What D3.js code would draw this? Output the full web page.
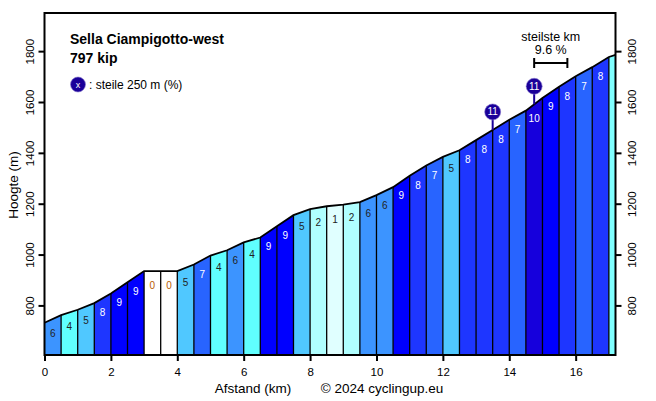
<!DOCTYPE html>
<html><head><meta charset="utf-8">
<script src="https://cdn.jsdelivr.net/npm/d3@7"></script>
<style>body{margin:0;background:#fff}svg{display:block;font-family:"Liberation Sans",Arial,sans-serif}</style>
</head><body><svg id="c" width="656" height="401"></svg>
<script>
const distances = [0,0.5,1,1.5,2,2.5,3,3.5,4,4.5,5,5.5,6,6.5,7,7.5,8,8.5,9,9.5,10,10.5,11,11.5,12,12.5,13,13.5,14,14.5,15,15.5,16,16.5,17,17.2];
const elevations = [732,762,783,809,847,891,935,935,935,961,996,1017,1048,1067,1111,1155,1179,1190,1196,1206,1234,1265,1310,1350,1384,1410,1450,1490,1530,1566,1616,1660,1701,1737,1777,1785];
const grades = [6,4,5,8,9,9,0,0,5,7,4,6,4,9,9,5,2,1,2,6,6,9,8,7,5,8,8,8,7,10,9,8,7,8,3];
const steepMarkers = [13.5,14.75];
const steepValues = [11,11];
const steepestKm = [14.75,15.75];
const steepestLabel = "9.6 %";
const xTicks = [0,2,4,6,8,10,12,14,16];
const yTicks = [800,1000,1200,1400,1600,1800];
const title = "Sella Ciampigotto-west";
const subtitle = "797 kip";

const colors = {0:"#ffffff",1:"#e0ffff",2:"#b0ffff",3:"#80ffff",4:"#60ffff",5:"#50c8ff",6:"#3c94ff",7:"#2864ff",8:"#1e36ff",9:"#0000ff",10:"#1600dc",11:"#1a0099"};

const svg = d3.select("#c");
const L=44.5,R=615.5,T=13,B=355;
const x = d3.scaleLinear().domain([0,17.2]).range([L,R]);
const y = d3.scaleLinear().domain([605,1950]).range([B,T]);
const elevAt = km => { const i = d3.bisectRight(distances, km)-1; const j=Math.min(i+1,distances.length-1);
  if (i>=distances.length-1) return elevations[elevations.length-1];
  const t=(km-distances[i])/(distances[j]-distances[i]); return elevations[i]+t*(elevations[j]-elevations[i]); };

// segments
const g = svg.append("g");
for (let i=0;i<grades.length;i++){
  const x0=x(distances[i]), x1=x(distances[i+1]);
  const y0=y(elevations[i]), y1=y(elevations[i+1]);
  g.append("path").attr("d",`M${x0},${B}L${x0},${y0}L${x1},${y1}L${x1},${B}Z`)
    .attr("fill",colors[grades[i]]).attr("stroke","none");
  if (i>0) g.append("line").attr("x1",x0).attr("x2",x0).attr("y1",B).attr("y2",y0).attr("stroke","#000").attr("stroke-width",1.3);
  if (distances[i+1]-distances[i] > 0.4){
    const gm = grades[i];
    const ym = y(elevAt((distances[i]+distances[i+1])/2));
    g.append("text").attr("x",(x0+x1)/2).attr("y",ym+18).attr("text-anchor","middle")
      .attr("font-size",10).attr("fill", gm>=7?"#ffffff":(gm===0?"#b85c00":"#222"))
      .text(gm);
  }
}
// profile line
svg.append("path").datum(distances.map((d,i)=>[d,elevations[i]]))
  .attr("d",d3.line().x(d=>x(d[0])).y(d=>y(d[1])))
  .attr("fill","none").attr("stroke","#000").attr("stroke-width",1.8);

// steep markers
steepMarkers.forEach((km,i)=>{
  const px=x(km), py=y(elevAt(km));
  svg.append("line").attr("x1",px).attr("x2",px).attr("y1",py).attr("y2",py-17).attr("stroke",colors[11]).attr("stroke-width",2);
  svg.append("circle").attr("cx",px).attr("cy",py-18).attr("r",8).attr("fill",colors[11]).attr("stroke","#8877cc").attr("stroke-width",0.6);
  svg.append("text").attr("x",px).attr("y",py-14.5).attr("text-anchor","middle").attr("font-size",10).attr("fill","#fff").text(steepValues[i]);
});

// steepest km bracket
const sx0=x(steepestKm[0]), sx1=x(steepestKm[1]), sy=63;
svg.append("line").attr("x1",sx0).attr("x2",sx1).attr("y1",sy).attr("y2",sy).attr("stroke","#000").attr("stroke-width",2);
[sx0,sx1].forEach(v=>svg.append("line").attr("x1",v).attr("x2",v).attr("y1",sy-5).attr("y2",sy+5).attr("stroke","#000").attr("stroke-width",2));
svg.append("text").attr("x",(sx0+sx1)/2).attr("y",41).attr("text-anchor","middle").attr("font-size",12.5).text("steilste km");
svg.append("text").attr("x",(sx0+sx1)/2).attr("y",54).attr("text-anchor","middle").attr("font-size",12.5).text(steepestLabel);

// frame
svg.append("rect").attr("x",L).attr("y",T).attr("width",R-L).attr("height",B-T).attr("fill","none").attr("stroke","#000").attr("stroke-width",2);

// axes
const xa = svg.append("g").attr("transform",`translate(0,${B})`).call(d3.axisBottom(x).tickValues(xTicks).tickFormat(d3.format("d")).tickSize(6).tickSizeOuter(0));
xa.select(".domain").remove();
xa.selectAll("line").attr("stroke-width",2);
xa.selectAll("text").attr("font-size",11.5).attr("font-family","Liberation Sans, Arial, sans-serif").attr("dy","1.0em");

const yl = svg.append("g").attr("transform",`translate(${L},0)`).call(d3.axisLeft(y).tickValues(yTicks).tickFormat(d3.format("d")).tickSize(6).tickSizeOuter(0));
yl.select(".domain").remove();
yl.selectAll("line").attr("stroke-width",2);
yl.selectAll("text").attr("font-size",11.5).attr("font-family","Liberation Sans, Arial, sans-serif")
  .attr("text-anchor","middle").attr("x",0).attr("dy",0).attr("y",0)
  .attr("transform","translate(-11,0) rotate(-90)");
const yr = svg.append("g").attr("transform",`translate(${R},0)`).call(d3.axisRight(y).tickValues(yTicks).tickFormat(d3.format("d")).tickSize(6).tickSizeOuter(0));
yr.select(".domain").remove();
yr.selectAll("line").attr("stroke-width",2);
yr.selectAll("text").attr("font-size",11.5).attr("font-family","Liberation Sans, Arial, sans-serif")
  .attr("text-anchor","middle").attr("x",0).attr("dy",0).attr("y",0)
  .attr("transform","translate(20,0) rotate(-90)");

// labels
svg.append("text").attr("x",253).attr("y",393).attr("text-anchor","middle").attr("font-size",13.5).text("Afstand (km)");
svg.append("text").attr("x",382).attr("y",393).attr("text-anchor","middle").attr("font-size",13.5).text("© 2024 cyclingup.eu");
svg.append("text").attr("transform","translate(18,185) rotate(-90)").attr("text-anchor","middle").attr("font-size",13.5).text("Hoogte (m)");

// title
svg.append("text").attr("x",70).attr("y",44).attr("font-size",14).attr("font-weight","bold").text(title);
svg.append("text").attr("x",70).attr("y",63).attr("font-size",14).attr("font-weight","bold").text(subtitle);
svg.append("circle").attr("cx",78).attr("cy",84.5).attr("r",7.5).attr("fill",colors[11]).attr("stroke","#8877cc").attr("stroke-width",0.6);
svg.append("text").attr("x",78).attr("y",88).attr("text-anchor","middle").attr("font-size",9).attr("fill","#fff").text("x");
svg.append("text").attr("x",89).attr("y",89).attr("font-size",12).text(": steile 250 m (%)");
</script></body></html>
